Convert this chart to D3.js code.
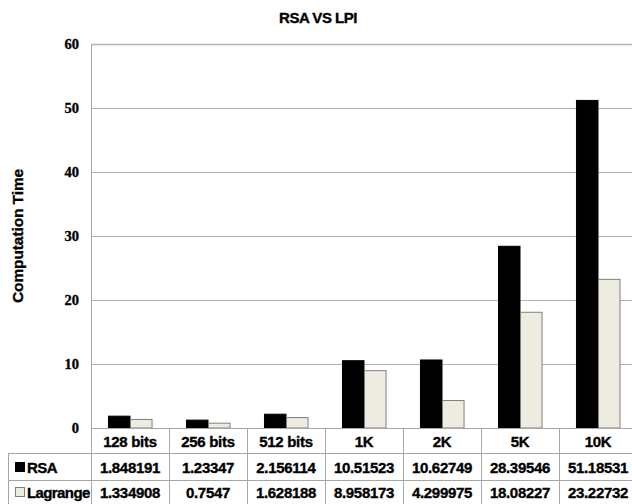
<!DOCTYPE html>
<html>
<head>
<meta charset="utf-8">
<script src="https://cdn.jsdelivr.net/npm/d3@7"></script>
<style>
  html, body { margin: 0; padding: 0; background: #fff; }
  svg { display: block; }
  text { font-family: "Liberation Sans", Arial, sans-serif; font-weight: bold; fill: #000; }
  .heavy { stroke: #000; stroke-width: 0.35px; }
</style>
</head>
<body>
<svg id="chart" width="632" height="504"></svg>
<script>
// Key sizes compared
const categories = ["128 bits", "256 bits", "512 bits", "1K", "2K", "5K", "10K"];
// Computation time per key size
const rsaValues = [1.848191, 1.23347, 2.156114, 10.51523, 10.62749, 28.39546, 51.18531];
const lagrangeValues = [1.334908, 0.7547, 1.628188, 8.958173, 4.299975, 18.08227, 23.22732];
const rsaLabels = ["1.848191", "1.23347", "2.156114", "10.51523", "10.62749", "28.39546", "51.18531"];
const lagrangeLabels = ["1.334908", "0.7547", "1.628188", "8.958173", "4.299975", "18.08227", "23.22732"];
const seriesNames = ["RSA", "Lagrange"];
const yTicks = [0, 10, 20, 30, 40, 50, 60];

const series = [
  { name: seriesNames[0], values: rsaValues, labels: rsaLabels, fill: "#000000", stroke: "#000000" },
  { name: seriesNames[1], values: lagrangeValues, labels: lagrangeLabels, fill: "#eeece1", stroke: "#7f7f7f" }
];

const svg = d3.select("#chart");
const gridColor = "#b4b4b4";
const tableColor = "#a6a6a6";

const plotLeft = 91, colW = 78;
const x = d3.scaleBand().domain(categories).range([plotLeft, plotLeft + colW * categories.length]).padding(0);
const xInner = d3.scaleBand().domain(seriesNames).range([0, x.bandwidth()]).paddingInner(0).paddingOuter(0.77);
const y = d3.scaleLinear().domain([0, 60]).range([428, 44]);

// Title
svg.append("text").attr("class", "heavy").attr("x", 318).attr("y", 23).attr("text-anchor", "middle")
  .style("font-size", "15px").style("letter-spacing", "-0.5px").text("RSA VS LPI");

// Axis title
svg.append("text").attr("class", "heavy").attr("transform", "translate(23,236) rotate(-90)").attr("text-anchor", "middle")
  .style("font-size", "15.5px").style("letter-spacing", "-0.1px").text("Computation Time");

// Gridlines
svg.append("g").selectAll("line").data(yTicks.filter(d => d > 0)).join("line")
  .attr("x1", plotLeft).attr("x2", 640)
  .attr("y1", d => Math.round(y(d)) + 0.5).attr("y2", d => Math.round(y(d)) + 0.5)
  .attr("stroke", gridColor).attr("stroke-width", d => d === 60 ? 1.6 : 1);

// Y axis labels
const yAxis = d3.axisLeft(y).tickValues(yTicks).tickSize(0).tickPadding(12).tickFormat(d3.format("d"));
const yg = svg.append("g").attr("transform", `translate(${plotLeft},0)`).call(yAxis);
yg.select(".domain").remove();
yg.selectAll("text").attr("class", "heavy").style("font-size", "14.5px")
  .style("font-family", "\"Liberation Serif\", \"Times New Roman\", serif")
  .style("font-weight", "bold").attr("fill", "#000");

// Bars
series.forEach(s => {
  svg.append("g").selectAll("rect").data(categories).join("rect")
    .attr("x", (c) => x(c) + xInner(s.name) + 0.5)
    .attr("y", (c, i) => y(s.values[i]))
    .attr("width", xInner.bandwidth() - 0.5)
    .attr("height", (c, i) => y(0) - y(s.values[i]))
    .attr("fill", s.fill).attr("stroke", s.stroke).attr("stroke-width", 1);
});

// Axis line and data table
const rowTop = [428, 453.5, 480.5, 507];
const lines = svg.append("g").attr("stroke", tableColor).attr("stroke-width", 1);
lines.append("line").attr("x1", plotLeft + 0.5).attr("x2", plotLeft + 0.5).attr("y1", 44).attr("y2", 507);
lines.append("line").attr("x1", plotLeft).attr("x2", 640).attr("y1", rowTop[0] + 0.5).attr("y2", rowTop[0] + 0.5);
[rowTop[1], rowTop[2], rowTop[3]].forEach(r => {
  lines.append("line").attr("x1", 8).attr("x2", 640).attr("y1", r).attr("y2", r);
});
lines.append("line").attr("x1", 8.5).attr("x2", 8.5).attr("y1", rowTop[1]).attr("y2", 507);
categories.forEach((c, i) => {
  if (i === 0) return;
  lines.append("line").attr("x1", x(c) + 0.5).attr("x2", x(c) + 0.5).attr("y1", rowTop[0]).attr("y2", 507);
});

// Header row
svg.append("g").selectAll("text").data(categories).join("text").attr("class", "heavy")
  .attr("x", c => x(c) + x.bandwidth() / 2).attr("y", 447)
  .attr("text-anchor", "middle").style("font-size", "15px").style("letter-spacing", "-0.3px").text(c => c);

// Series rows
const rowBase = [473, 498];
series.forEach((s, si) => {
  svg.append("g").selectAll("text").data(categories).join("text").attr("class", "heavy")
    .attr("x", c => x(c) + x.bandwidth() / 2).attr("y", rowBase[si])
    .attr("text-anchor", "middle").style("font-size", "15px").style("letter-spacing", "-0.3px")
    .text((c, i) => s.labels[i]);
  svg.append("rect").attr("x", 15.5).attr("y", rowBase[si] - 10.5).attr("width", 9).attr("height", 9)
    .attr("fill", s.fill).attr("stroke", s.stroke).attr("stroke-width", 1);
  svg.append("text").attr("class", "heavy").attr("x", 27).attr("y", rowBase[si])
    .style("font-size", "15px").style("letter-spacing", "-0.6px").text(s.name);
});
</script>
</body>
</html>
